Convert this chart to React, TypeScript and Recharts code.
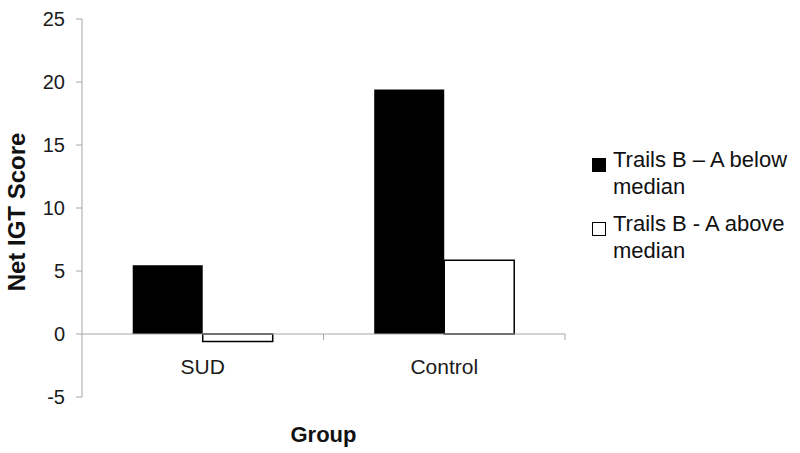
import { Bar, BarChart, ReferenceLine, XAxis, YAxis } from 'recharts';

const groups = ['SUD', 'Control'];
const belowMedian = [5.45, 19.4];
const aboveMedian = [-0.6, 5.85];
const yTicks = [-5, 0, 5, 10, 15, 20, 25];
const seriesNames = ['Trails B \u2013 A below median', 'Trails B - A above median'];

const FONT = 'Arial, "Liberation Sans", Helvetica, sans-serif';
const AXIS_GREY = '#a6a6a6';
const seriesFills = ['#000000', '#ffffff'];

const data = groups.map((g, i) => ({ group: g, below: belowMedian[i], above: aboveMedian[i] }));

// category labels sit under the zero line, not at the bottom of the plot
function CategoryTick({ x, y, payload }: any) {
  const half = payload?.offset ?? 0;
  return (
    <g>
      <text x={x} y={y - 31} textAnchor="middle" fontSize={21} fontFamily={FONT} fill="#1a1a1a">
        {payload.value}
      </text>
      <line x1={x + half} x2={x + half} y1={y - 71} y2={y - 65} stroke={AXIS_GREY} strokeWidth={1} />
    </g>
  );
}

function YTitle({ viewBox }: any) {
  const cy = viewBox.y + viewBox.height / 2 + 4;
  return (
    <text
      x={25}
      y={cy}
      transform={`rotate(-90, 25, ${cy})`}
      textAnchor="middle"
      fontSize={24}
      fontWeight="bold"
      fontFamily={FONT}
      fill="#111"
    >
      Net IGT Score
    </text>
  );
}

function XTitle({ viewBox }: any) {
  return (
    <text
      x={viewBox.x + viewBox.width / 2}
      y={442}
      textAnchor="middle"
      fontSize={22}
      fontWeight="bold"
      fontFamily={FONT}
      fill="#111"
    >
      Group
    </text>
  );
}

export default function App() {
  return (
    <div style={{ position: 'absolute', left: 0, top: 0, width: 800, height: 453, background: '#fff' }}>
      <BarChart
        width={800}
        height={453}
        data={data}
        margin={{ top: 19, right: 235, left: 0, bottom: 0 }}
        barCategoryGap="21%"
        barGap={0}
      >
        <XAxis
          dataKey="group"
          axisLine={false}
          tickLine={false}
          height={56}
          interval={0}
          tick={<CategoryTick />}
          label={<XTitle />}
        />
        <YAxis
          domain={[-5, 25]}
          ticks={yTicks}
          width={82}
          tickSize={6}
          tickMargin={11}
          axisLine={{ stroke: AXIS_GREY }}
          tickLine={{ stroke: AXIS_GREY }}
          tick={{ fill: '#1a1a1a', fontSize: 20, fontFamily: FONT }}
          label={<YTitle />}
        />
        <ReferenceLine y={0} stroke={AXIS_GREY} strokeWidth={1} />
        <Bar dataKey="below" fill={seriesFills[0]} isAnimationActive={false} />
        <Bar dataKey="above" fill={seriesFills[1]} stroke="#000" strokeWidth={1.5} isAnimationActive={false} />
      </BarChart>
      <div
        style={{
          position: 'absolute',
          left: 592,
          top: 147,
          width: 208,
          fontFamily: FONT,
          fontSize: 22,
          lineHeight: '26.7px',
          color: '#111',
        }}
      >
        {seriesNames.map((name, i) => (
          <div key={name} style={{ position: 'relative', paddingLeft: 21, marginBottom: 10.6 }}>
            <span
              style={{
                position: 'absolute',
                left: 0,
                top: 10.5,
                width: 12,
                height: 12,
                background: seriesFills[i],
                border: '1px solid #000',
              }}
            />
            {name}
          </div>
        ))}
      </div>
    </div>
  );
}
